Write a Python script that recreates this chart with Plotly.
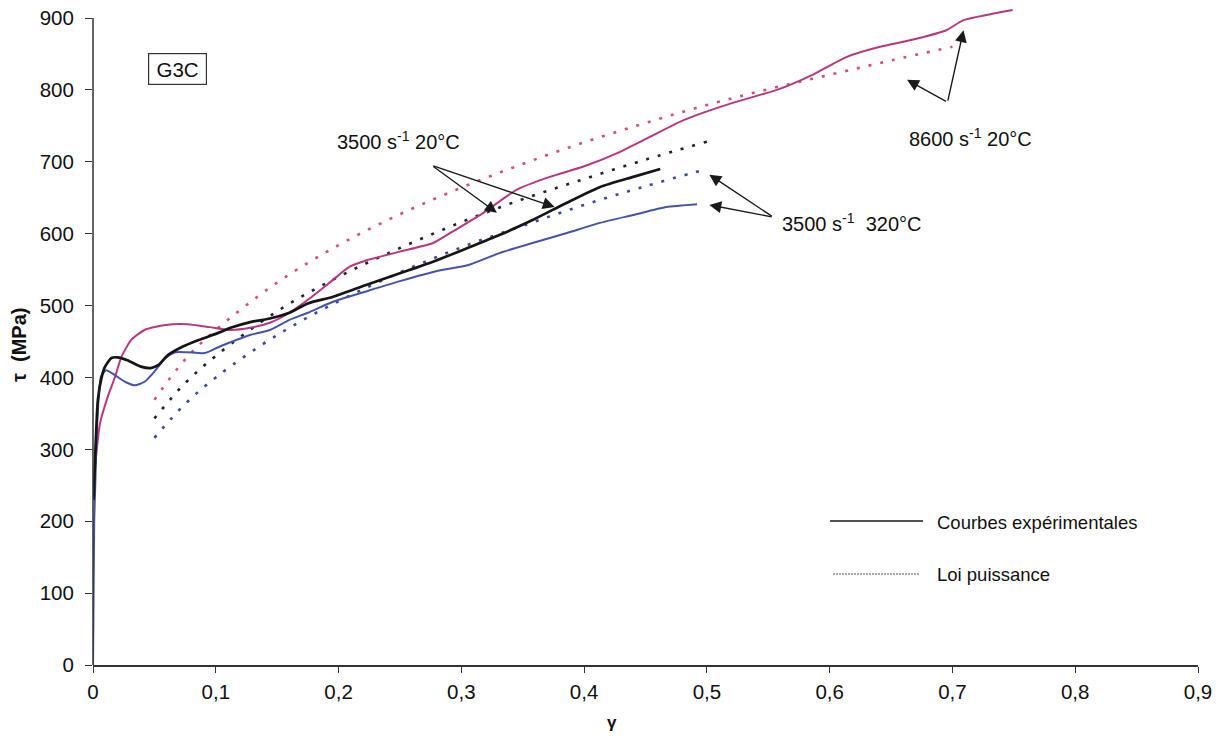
import plotly.graph_objects as go

# ---------------- data ----------------
# Experimental curves ("Courbes expérimentales")
g_blue = [0, 0.0005, 0.001, 0.002, 0.003, 0.005, 0.0065, 0.0106, 0.018, 0.026, 0.034, 0.042,
          0.05, 0.059, 0.067, 0.077, 0.091, 0.102, 0.112, 0.128, 0.144, 0.16, 0.175, 0.195,
          0.223, 0.25, 0.283, 0.305, 0.331, 0.358, 0.386, 0.413, 0.44, 0.467, 0.492]
t_blue = [0, 100, 200, 260, 320, 380, 401, 410, 403, 394, 389, 394,
          408, 427, 435, 435, 434, 442, 449, 459, 466, 480, 490, 505,
          520, 534, 549, 556, 573, 587, 601, 615, 626, 637, 641]

g_black = [0.0005, 0.002, 0.004, 0.007, 0.0098, 0.015, 0.02, 0.028, 0.039, 0.047, 0.053, 0.061,
           0.072, 0.086, 0.102, 0.112, 0.128, 0.144, 0.16, 0.175, 0.195, 0.223, 0.25, 0.277,
           0.305, 0.331, 0.358, 0.386, 0.413, 0.44, 0.462]
t_black = [230, 300, 369, 400, 415, 427, 428, 424, 415, 413, 417, 431,
           442, 452, 462, 469, 477, 482, 490, 503, 512, 529, 545, 561,
           580, 598, 619, 643, 665, 679, 690]

g_mag = [0.0016, 0.0057, 0.012, 0.018, 0.023, 0.031, 0.042, 0.059, 0.077, 0.095, 0.112, 0.128,
         0.144, 0.16, 0.175, 0.195, 0.209, 0.223, 0.25, 0.277, 0.291, 0.318, 0.345, 0.372,
         0.399, 0.427, 0.454, 0.481, 0.521, 0.557, 0.586, 0.614, 0.641, 0.668, 0.695, 0.709,
         0.73, 0.749]
t_mag = [275, 336, 373, 401, 428, 452, 466, 473, 474, 470, 466, 469,
         476, 490, 508, 535, 554, 563, 575, 587, 601, 629, 661, 679,
         693, 712, 735, 758, 782, 800, 821, 846, 860, 870, 883, 897,
         905, 911]

# Power-law fits ("Loi puissance")
g_pl = [0.05, 0.075, 0.1, 0.15, 0.2, 0.25, 0.3, 0.35, 0.4, 0.45, 0.5]
t_pl_black = [343, 392, 430, 492, 540, 580, 616, 648, 676, 703, 728]
t_pl_blue = [316, 363, 400, 459, 506, 546, 581, 611, 640, 666, 690]

g_pl_mag = [0.05, 0.075, 0.1, 0.15, 0.2, 0.25, 0.3, 0.35, 0.4, 0.45, 0.5, 0.55, 0.6, 0.65, 0.7]
t_pl_mag = [369, 425, 466, 532, 584, 627, 664, 697, 727, 754, 779, 801, 821, 841, 860]

x_tickvals = [0, 0.1, 0.2, 0.3, 0.4, 0.5, 0.6, 0.7, 0.8, 0.9]
x_ticktext = ["0", "0,1", "0,2", "0,3", "0,4", "0,5", "0,6", "0,7", "0,8", "0,9"]
y_tickvals = [0, 100, 200, 300, 400, 500, 600, 700, 800, 900]
Y_AXIS_TOP = 900

# ---------------- styles ----------------
C_MAG = "#b8387e"
C_MAG_DOT = "#d0507f"
C_BLACK = "#151515"
C_BLUE = "#4554a8"
C_BLUE_DOT = "#3c4a9a"
C_TEXT = "#111111"
FONT = "Liberation Sans, Arial, sans-serif"

# plot-area geometry (page pixels); body margin is removed by the post script
OFF = 0
PX_L, PX_R, PX_T, PX_B = 93, 1198, 8, 665
PW, PH = PX_R - PX_L, PX_B - PX_T
def px(x):
    return (x - PX_L) / PW
def py(y):
    return (PX_B - y) / PH

fig = go.Figure()

dot = "3px,9px"
fig.add_trace(go.Scatter(x=g_pl_mag, y=t_pl_mag, mode="lines",
                         line=dict(color=C_MAG_DOT, width=2.6, dash=dot, shape="spline")))
fig.add_trace(go.Scatter(x=g_pl, y=t_pl_black, mode="lines",
                         line=dict(color="#222222", width=2.6, dash=dot, shape="spline")))
fig.add_trace(go.Scatter(x=g_pl, y=t_pl_blue, mode="lines",
                         line=dict(color=C_BLUE_DOT, width=2.6, dash=dot, shape="spline")))

fig.add_trace(go.Scatter(x=g_mag, y=t_mag, mode="lines",
                         line=dict(color=C_MAG, width=2, shape="spline", smoothing=0.6)))
fig.add_trace(go.Scatter(x=g_blue, y=t_blue, mode="lines",
                         line=dict(color=C_BLUE, width=2, shape="spline", smoothing=0.6)))
fig.add_trace(go.Scatter(x=g_black, y=t_black, mode="lines",
                         line=dict(color=C_BLACK, width=2.7, shape="spline", smoothing=0.6)))

annotations = []

# arrows (head, tail) in data coordinates
arrows = [
    ((0.329, 629), (0.276, 695)),
    ((0.376, 637), (0.276, 695)),
    ((0.709, 883), (0.696, 783)),
    ((0.663, 814), (0.696, 783)),
    ((0.502, 682), (0.554, 623)),
    ((0.502, 640), (0.554, 623)),
]
for (hx, hy), (tx, ty) in arrows:
    annotations.append(dict(x=hx, y=hy, ax=tx, ay=ty, xref="x", yref="y", axref="x", ayref="y",
                            text="", showarrow=True, arrowhead=2, arrowsize=1.7,
                            arrowwidth=1.4, arrowcolor="#1a1a1a", standoff=0, startstandoff=0))

lab_font = dict(family=FONT, size=20, color=C_TEXT)
annotations += [
    dict(x=0.197, y=730, xref="x", yref="y", text="3500 s<sup>-1</sup> 20°C", showarrow=False,
         xanchor="left", yanchor="middle", font=lab_font),
    dict(x=0.663, y=734, xref="x", yref="y", text="8600 s<sup>-1</sup> 20°C", showarrow=False,
         xanchor="left", yanchor="middle", font=lab_font),
    dict(x=0.5595, y=616, xref="x", yref="y", text="3500 s<sup>-1</sup>  320°C", showarrow=False,
         xanchor="left", yanchor="middle", font=lab_font),
    dict(x=px(177.5), y=py(69), xref="paper", yref="paper", text="G3C", showarrow=False,
         xanchor="center", yanchor="middle", font=dict(family=FONT, size=20.5, color=C_TEXT),
         width=51, height=24, align="center", valign="middle",
         bordercolor="#333333", borderwidth=1.2, borderpad=3, bgcolor="white"),
    # legend texts
    dict(x=px(935), y=py(522), xref="paper", yref="paper",
         text="Courbes expérimentales", showarrow=False, xanchor="left", yanchor="middle",
         font=dict(family=FONT, size=18.5, color=C_TEXT)),
    dict(x=px(935), y=py(574), xref="paper", yref="paper",
         text="Loi puissance", showarrow=False, xanchor="left", yanchor="middle",
         font=dict(family=FONT, size=18.5, color=C_TEXT)),
    # axis titles
    dict(x=px(612), y=py(722), xref="paper", yref="paper", text="<b>γ</b>",
         showarrow=False, xanchor="center", yanchor="middle",
         font=dict(family=FONT, size=17, color=C_TEXT)),
    dict(x=px(19), y=py(345), xref="paper", yref="paper", text="<b>τ  (MPa)</b>",
         showarrow=False, xanchor="center", yanchor="middle", textangle=-90,
         font=dict(family=FONT, size=20, color=C_TEXT)),
]

shapes = [
    # y axis line (ends at the 900 tick)
    dict(type="line", xref="paper", yref="y", x0=0, x1=0, y0=0, y1=Y_AXIS_TOP,
         line=dict(color="#333333", width=1.5)),
    # legend samples
    dict(type="line", xref="paper", yref="paper",
         x0=px(830), x1=px(923), y0=py(521), y1=py(521),
         line=dict(color="#1a1a1a", width=1.6)),
    dict(type="line", xref="paper", yref="paper",
         x0=px(833), x1=px(920), y0=py(574), y1=py(574),
         line=dict(color="#888888", width=1.4, dash="2px,1px")),
]

y_top = (PX_B - PX_T) / ((665 - 18) / 900.0)   # same scale as the reference (900 at y=18)

fig.update_layout(
    width=1226, height=740,
    margin=dict(l=PX_L - OFF, r=1226 - PX_R + OFF, t=PX_T - OFF, b=740 - PX_B + OFF),
    paper_bgcolor="white", plot_bgcolor="white",
    showlegend=False,
    annotations=annotations, shapes=shapes,
    font=dict(family=FONT, size=20, color=C_TEXT),
)
fig.update_xaxes(range=[0, 0.9], tickvals=x_tickvals, ticktext=x_ticktext,
                 showgrid=False, zeroline=False, showline=True, linecolor="#333333", linewidth=1.5,
                 ticks="outside", ticklen=6, tickcolor="#333333", tickwidth=1,
                 ticklabelstandoff=2, automargin=False,
                 tickfont=dict(family=FONT, size=20.5, color=C_TEXT))
fig.update_yaxes(range=[0, y_top], tickvals=y_tickvals,
                 showgrid=False, zeroline=False, showline=False,
                 ticks="outside", ticklen=7, tickcolor="#333333", tickwidth=1,
                 ticklabelstandoff=7, automargin=False, ticklabeloverflow="allow",
                 tickfont=dict(family=FONT, size=20.5, color=C_TEXT))

fig.write_html("out.html",
               config={"displayModeBar": False},
               post_script="document.body.style.margin='0';document.body.style.padding='0';")
